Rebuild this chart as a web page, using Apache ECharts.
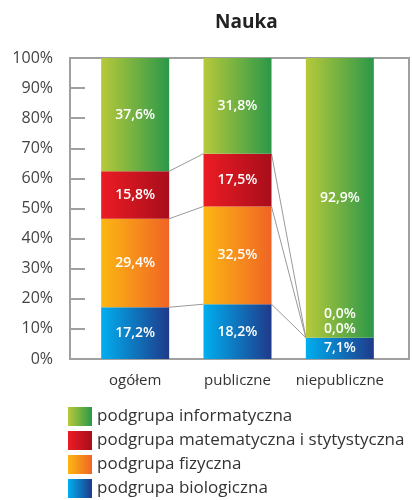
<!DOCTYPE html>
<html>
<head>
<meta charset="utf-8">
<script src="https://cdn.jsdelivr.net/npm/echarts@6/dist/echarts.min.js"></script>
<style>
  html, body { margin: 0; padding: 0; background: #fff; }
  #chart { width: 412px; height: 500px; }
</style>
</head>
<body>
<div id="chart"></div>
<script>
const categories = ["ogółem", "publiczne", "niepubliczne"];
const seriesNames = [
  "podgrupa biologiczna",
  "podgrupa fizyczna",
  "podgrupa matematyczna i stytystyczna",
  "podgrupa informatyczna",
];
const biologiczna = [17.2, 18.2, 7.1];
const fizyczna = [29.4, 32.5, 0.0];
const matematyczna = [15.8, 17.5, 0.0];
const informatyczna = [37.6, 31.8, 92.9];
const yTicks = [0, 10, 20, 30, 40, 50, 60, 70, 80, 90, 100];

const BAR_W = 68;
const FONT = "'Open Sans', 'Noto Sans', sans-serif";

const gradients = [
  ["#00aeef", "#1f3a8a"],
  ["#fcb713", "#f06424"],
  ["#ec1c24", "#a80d1b"],
  ["#b7c93a", "#2b9849"],
];
const grad = (c) => new echarts.graphic.LinearGradient(0, 0, 1, 0, [
  { offset: 0, color: c[0] },
  { offset: 1, color: c[1] },
]);

const values = [biologiczna, fizyczna, matematyczna, informatyczna];
const fmt = (v) => v.toFixed(1).replace(".", ",") + "%";

// cumulative tops for the connector lines (series lines)
const cum = [];
let run = categories.map(() => 0);
values.slice(0, 3).forEach((arr) => {
  run = run.map((r, i) => r + arr[i]);
  cum.push(run.slice());
});
const lineData = [];
cum.forEach((lvl) => {
  for (let i = 0; i < categories.length - 1; i++) {
    lineData.push([i, lvl[i], lvl[i + 1]]);
  }
});

const barSeries = values.map((arr, k) => ({
  name: seriesNames[k],
  type: "bar",
  stack: "total",
  xAxisIndex: 1,
  yAxisIndex: 1,
  barWidth: BAR_W,
  itemStyle: { color: grad(gradients[k]) },
  label: {
    show: true,
    position: "inside",
    color: "#fff",
    fontSize: 14,
    fontWeight: 600,
    fontFamily: FONT,
    formatter: (p) => fmt(p.value),
  },
  data: arr.map((v) =>
    v === 0 ? { value: v, label: { offset: [0, -9 - 15 * (k - 1)] } } : v
  ),
}));

const chart = echarts.init(document.getElementById("chart"));
chart.setOption({
  animation: false,
  title: {
    text: "Nauka",
    left: 210,
    top: 8,
    textStyle: { fontSize: 19, fontWeight: "bold", color: "#222", fontFamily: FONT },
  },
  legend: {
    orient: "vertical",
    left: 68,
    top: 407,
    padding: 0,
    itemWidth: 24,
    itemHeight: 19,
    itemGap: 5,
    icon: "rect",
    selectedMode: false,
    data: seriesNames.slice().reverse(),
    textStyle: { fontSize: 17, lineHeight: 19, color: "#333", fontFamily: FONT },
  },
  grid: [
    { left: 70, right: 3, top: 58, bottom: 141, show: true, borderColor: "#a0a0a0", borderWidth: 2 },
    { left: 84, right: 21, top: 58, bottom: 141 },
  ],
  xAxis: [
    { gridIndex: 0, type: "category", data: categories, show: false },
    {
      gridIndex: 1,
      type: "category",
      data: categories,
      axisLine: { show: false },
      axisTick: { show: false },
      axisLabel: { interval: 0, fontSize: 15, color: "#333", margin: 14, fontFamily: FONT },
    },
  ],
  yAxis: [
    {
      gridIndex: 0,
      type: "value",
      min: yTicks[0],
      max: yTicks[yTicks.length - 1],
      interval: 10,
      axisLine: { show: true, lineStyle: { color: "#a0a0a0", width: 2 } },
      axisTick: { show: true, inside: true, length: 15, lineStyle: { color: "#a0a0a0", width: 2 } },
      splitLine: { show: false },
      axisLabel: { formatter: "{value}%", fontSize: 16, color: "#444", margin: 17, fontFamily: FONT },
    },
    { gridIndex: 1, type: "value", min: 0, max: 100, show: false },
  ],
  series: barSeries.concat([
    {
      type: "custom",
      xAxisIndex: 1,
      yAxisIndex: 1,
      silent: true,
      data: lineData,
      encode: { x: 0, y: 1 },
      renderItem: (params, api) => {
        const a = api.coord([api.value(0), api.value(1)]);
        const b = api.coord([api.value(0) + 1, api.value(2)]);
        return {
          type: "line",
          shape: { x1: a[0] + BAR_W / 2, y1: a[1], x2: b[0] - BAR_W / 2, y2: b[1] },
          style: { stroke: "#999", lineWidth: 1 },
        };
      },
    },
  ]),
});
</script>
</body>
</html>
